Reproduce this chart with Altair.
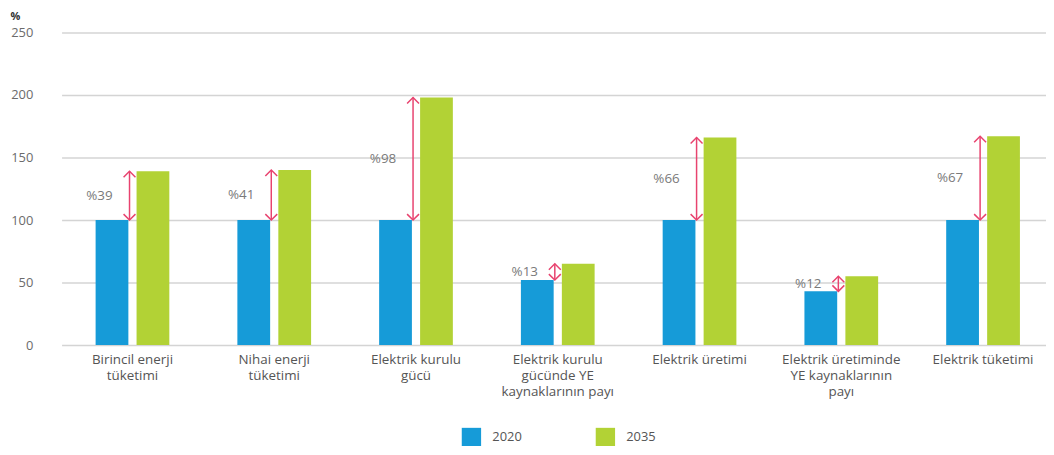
import altair as alt
import pandas as pd

categories = [
    "Birincil enerji|tüketimi",
    "Nihai enerji|tüketimi",
    "Elektrik kurulu|gücü",
    "Elektrik kurulu|gücünde YE|kaynaklarının payı",
    "Elektrik üretimi",
    "Elektrik üretiminde|YE kaynaklarının|payı",
    "Elektrik tüketimi",
]
years = ["2020", "2035"]
v2020 = [100, 100, 100, 52, 100, 43, 100]
v2035 = [139, 140, 198, 65, 166, 55, 167]
change_labels = ["%39", "%41", "%98", "%13", "%66", "%12", "%67"]

BLUE = "#169bd8"
GREEN = "#b2d235"
PINK = "#e8436f"
FONT = "Open Sans"

bars_df = pd.DataFrame(
    [{"cat": c, "year": "2020", "value": a} for c, a in zip(categories, v2020)]
    + [{"cat": c, "year": "2035", "value": b} for c, b in zip(categories, v2035)]
)
arr_df = pd.DataFrame({
    "cat": categories,
    "v2020": v2020,
    "v2035": v2035,
    "label": change_labels,
})
arr_df["mid"] = (arr_df["v2020"] + arr_df["v2035"]) / 2

xscale = alt.Scale(domain=categories, range=[2, 1002], paddingInner=0.48, paddingOuter=0.24)
yscale = alt.Scale(domain=[0, 250])

xaxis = alt.Axis(
    title=None, labelAngle=0, ticks=False, domain=False,
    labelExpr="split(datum.label, '|')", labelFont=FONT, labelFontSize=13.5,
    labelColor="#555555", labelLineHeight=16, labelPadding=8, labelBaseline="top",
)
yaxis = alt.Axis(
    title="%", titleAngle=0, titleX=-50, titleY=-16, titleAlign="left",
    titleBaseline="middle", titleFont=FONT, titleFontSize=11, titleFontWeight="bold",
    titleColor="#333333", values=[0, 50, 100, 150, 200, 250], ticks=False, domain=False,
    labelFont=FONT, labelFontSize=13, labelColor="#6b6b6b", labelPadding=27,
    gridColor="#d4d4d4", gridWidth=1.5,
)

bars = alt.Chart(bars_df).mark_bar().encode(
    x=alt.X("cat:N", sort=categories, scale=xscale, axis=xaxis),
    xOffset=alt.XOffset("year:N", scale=alt.Scale(paddingInner=0.2, paddingOuter=0)),
    y=alt.Y("value:Q", scale=yscale, axis=yaxis),
    color=alt.Color(
        "year:N",
        scale=alt.Scale(domain=years, range=[BLUE, GREEN]),
        legend=alt.Legend(
            title=None, orient="none", legendX=405, legendY=398, direction="horizontal",
            symbolType="square", symbolSize=380, symbolStrokeWidth=0, symbolOpacity=1,
            labelFont=FONT, labelFontSize=13, labelColor="#555555", labelOffset=11,
            columnPadding=74,
        ),
    ),
)

xpos = alt.X("cat:N", sort=categories, scale=xscale, bandPosition=0.46)

rule = alt.Chart(arr_df).mark_rule(color=PINK, strokeWidth=1.5).encode(
    x=xpos, y=alt.Y("v2020:Q", scale=yscale), y2="v2035:Q"
)
top_head = alt.Chart(arr_df).mark_point(
    shape="M-1,1L0,0L1,1", filled=False, size=144, strokeWidth=1.5, color=PINK, opacity=1
).encode(x=xpos, y=alt.Y("v2035:Q", scale=yscale))
bot_head = alt.Chart(arr_df).mark_point(
    shape="M-1,-1L0,0L1,-1", filled=False, size=144, strokeWidth=1.5, color=PINK, opacity=1
).encode(x=xpos, y=alt.Y("v2020:Q", scale=yscale))
labels = alt.Chart(arr_df).mark_text(
    align="right", baseline="middle", dx=-17, font=FONT, fontSize=13.5, color="#7a7a7a"
).encode(x=xpos, y=alt.Y("mid:Q", scale=yscale), text="label:N")

chart = alt.layer(bars, rule, top_head, bot_head, labels).properties(
    width=994, height=315,
    autosize=alt.AutoSizeParams(type="none"),
    padding={"left": 52, "top": 23, "right": 0, "bottom": 100},
).configure_view(stroke=None)

chart.save("out.html", embed_options={"renderer": "svg", "actions": False})
